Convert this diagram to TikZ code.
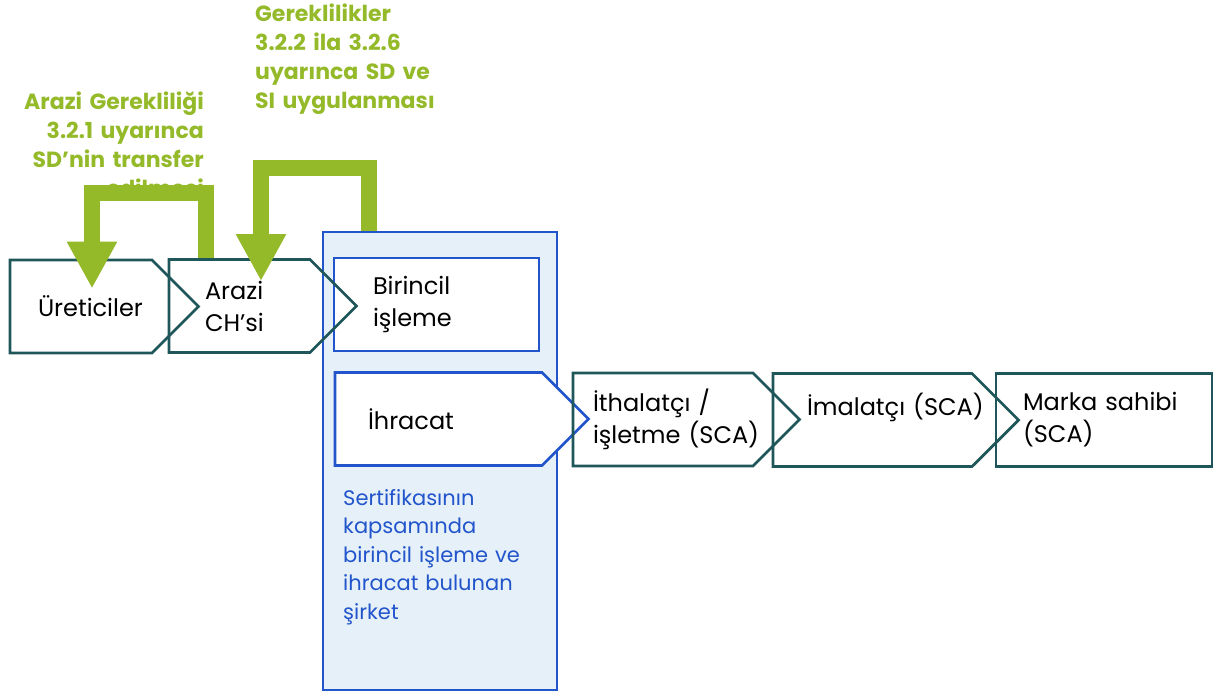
\documentclass[tikz,border=0pt]{standalone}
\usepackage{fontspec}
\setmainfont{Poppins}
\usetikzlibrary{shapes.symbols,arrows.meta,calc}
\definecolor{tealline}{RGB}{31,86,90}
\definecolor{firmblue}{RGB}{34,85,204}
\definecolor{firmfill}{RGB}{230,240,248}
\definecolor{reqgreen}{RGB}{148,185,41}
\hyphenpenalty=10000
\begin{document}
\begin{tikzpicture}[x=1pt,y=-1pt,
  stage/.style={signal,signal to=east,signal from=nowhere,signal pointer angle=90,draw=tealline,line width=2.8pt,minimum height=93pt,align=left,font=\fontsize{24}{32}\selectfont},
  box/.style={rectangle,draw=tealline,line width=2.8pt,minimum height=93pt,align=left,font=\fontsize{24}{32}\selectfont},
  reqnote/.style={text=reqgreen,font=\bfseries\fontsize{22}{29}\selectfont,inner sep=0pt,text width=240pt},
  reqarrow/.style={draw=reqgreen,line width=16pt,-{Triangle[width=47pt,length=47pt]}}]
\useasboundingbox (0,0) rectangle (1220,693);

% Company box
\node[draw=firmblue,fill=firmfill,line width=2.8pt,minimum width=234pt,minimum height=458pt] (firma) at (440,461) {};
\node[box,draw=firmblue,line width=2.6pt,fill=white,inner xsep=39pt,text width=127pt] (birincil) at (436.5,304.5) {Birincil\\işleme};
\node[stage,draw=firmblue,line width=2.6pt,fill=white,inner xsep=33pt,text width=141pt] (ihracat) at (438.5,419) {İhracat};
\node[anchor=base west,inner sep=0pt,text width=210pt,align=left,text=firmblue,font=\fontsize{21}{28.5}\selectfont] (firmanot) at (343,505) {Sertifikasının\\kapsamında\\birincil işleme ve\\ihracat bulunan\\şirket};

% Supply chain
\node[stage,inner xsep=28pt,text width=86pt] (ureticiler) at (81,306.5) {Üreticiler};
\node[stage,inner xsep=36pt,text width=69pt] (arazi) at (239.5,306) {Arazi\\CH’si};
\node[stage,inner xsep=20pt,text width=140pt] (ithalatci) at (663,419.5) {İthalatçı /\\işletme~(SCA)};
\node[stage,inner xsep=34pt,text width=131pt] (imalatci) at (872.5,420) {İmalatçı~(SCA)\\~};
\node[box,inner xsep=27pt,text width=162pt] (marka) at (1104,420) {Marka~sahibi\\(SCA)};

% Requirements
\node[reqnote,anchor=base east,align=right] (araziGer) at (204,109) {Arazi Gerekliliği\\3.2.1 uyarınca\\SD{\char"0027}nin transfer\\edilmesi};
\node[reqnote,anchor=base west,align=left] (gerekler) at (255,22) {Gereklilikler\\3.2.2 ila 3.2.6\\uyarınca SD ve\\SI uygulanması};

% Green arrows
\draw[reqarrow] ($(arazi.north)+(-33.5,0)$) -- ++(0,-65.5) -| ($(ureticiler.north)+(11,30)$);
\draw[reqarrow] ($(firma.north)+(-71.5,0)$) -- ++(0,-62.5) -| ($(arazi.north)+(21.5,23)$);

\end{tikzpicture}
\end{document}
